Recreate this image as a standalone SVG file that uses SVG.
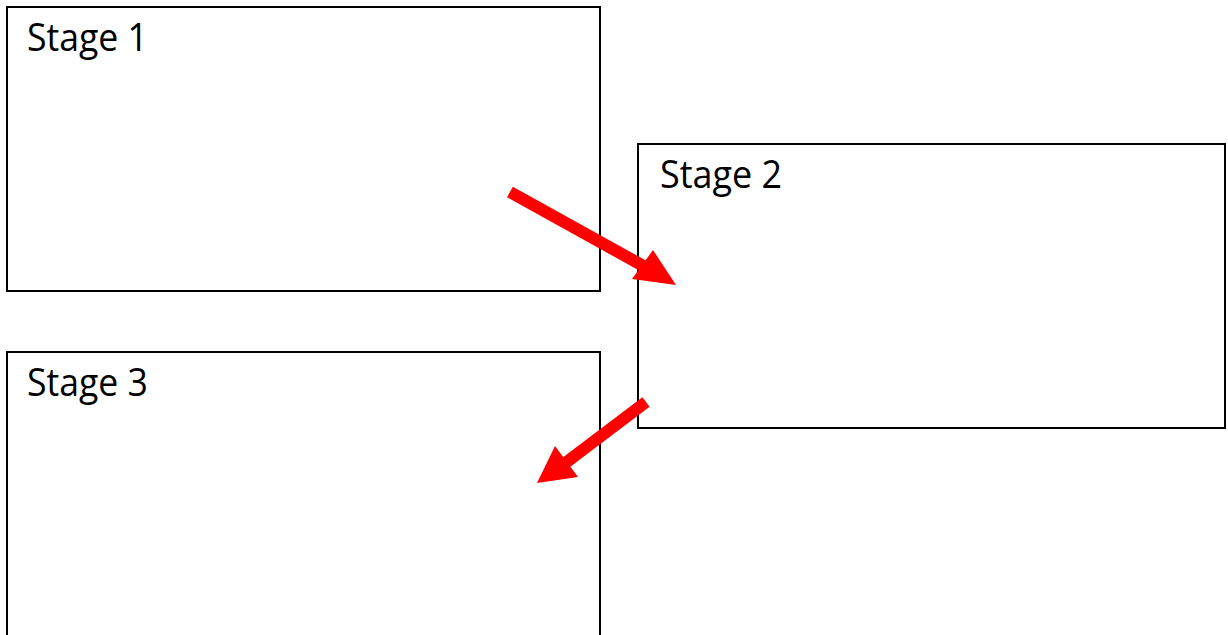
<svg xmlns="http://www.w3.org/2000/svg" width="1228" height="635" viewBox="0 0 1228 635">
<style>
.box{fill:#fff;stroke:#000;stroke-width:2}
.lbl{font-family:"Open Sans","Noto Sans",sans-serif;font-size:38px;fill:#000}
.shaft{stroke:#f00;stroke-width:12;fill:none}
.head{fill:#f00}
</style>
<rect width="1228" height="635" fill="#fff"/>
<g id="stage1"><rect class="box" x="7" y="7" width="593" height="284"/><text class="lbl" x="27" y="51" textLength="121" lengthAdjust="spacingAndGlyphs">Stage 1</text></g>
<g id="stage2"><rect class="box" x="638" y="144" width="587" height="284"/><text class="lbl" x="660" y="188" textLength="122" lengthAdjust="spacingAndGlyphs">Stage 2</text></g>
<g id="stage3"><rect class="box" x="7" y="352" width="593" height="290"/><text class="lbl" x="27" y="396" textLength="121" lengthAdjust="spacingAndGlyphs">Stage 3</text></g>
<g id="connectors">
<line class="shaft" x1="510" y1="192" x2="647" y2="268"/>
<polygon class="head" points="632,279 653,250 676,285"/>
<line class="shaft" x1="646" y1="402" x2="564" y2="464"/>
<polygon class="head" points="555,446 578,477 537,483"/>
</g>
</svg>
